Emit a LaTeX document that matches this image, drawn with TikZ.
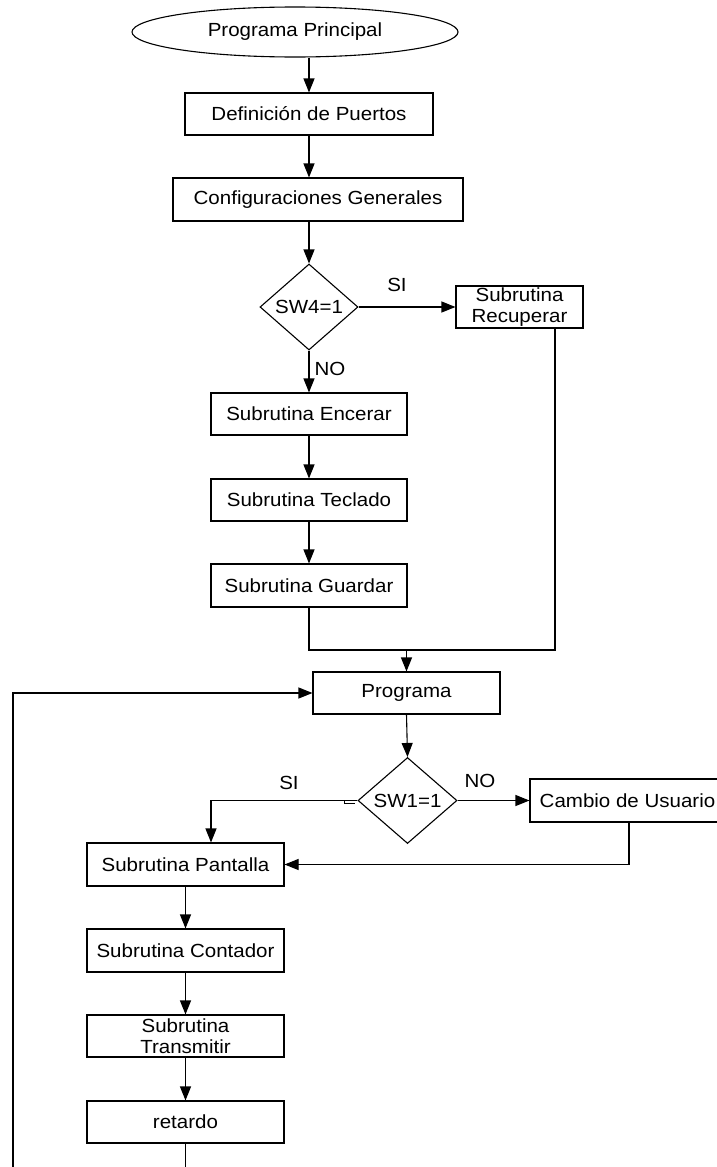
\documentclass[tikz,border=0pt]{standalone}
\usepackage{fontspec}
\setmainfont{Liberation Sans}[FakeStretch=1.08]
\usetikzlibrary{arrows.meta,shapes.geometric}

\begin{document}
\begin{tikzpicture}[x=1pt,y=-1pt,
  line width=1.1pt,
  every node/.style={font=\fontsize{19}{21.5}\selectfont},
  box/.style={draw, rectangle, inner sep=0pt, align=center, minimum height=42pt},
  dia/.style={draw, diamond, inner sep=0pt, minimum width=98pt, minimum height=86pt},
  arr/.style={-{Triangle[length=14pt,width=11pt]}},
  lbl/.style={inner sep=0pt}
]
\useasboundingbox (0,0) rectangle (717,1167);
\clip (0,0) rectangle (717,1167);

% start and set-up
\node[ellipse, draw, minimum width=326pt, minimum height=50pt, inner sep=0pt] (pp) at (295,32) {Programa Principal};
\node[box, minimum width=248pt] (def) at (309,114) {Definición de Puertos};
\node[box, minimum width=290pt, minimum height=43pt] (conf) at (318,199.5) {Configuraciones Generales};

% first decision
\node[dia, label={[name=d1t]center:{SW4=1}}] (d1) at (309,307) {};
\node[box, minimum width=127pt] (rec) at (519.5,307) {Subrutina\\Recuperar};
\node[box, minimum width=196pt] (enc) at (309,414) {Subrutina Encerar};
\node[box, minimum width=196pt] (tec) at (309,500) {Subrutina Teclado};
\node[box, minimum width=196pt, minimum height=43pt] (gua) at (309,585.5) {Subrutina Guardar};

% main loop
\node[box, minimum width=187pt] (prog) at (406.5,693) {Programa};
\node[dia, minimum width=99pt, label={[name=d2t]center:{SW1=1}}] (d2) at (407.5,800.5) {};
\node[box, minimum width=195pt, minimum height=43pt] (cam) at (627.5,800.5) {Cambio de Usuario};
\node[box, minimum width=197pt, minimum height=43pt] (pan) at (185.5,864.5) {Subrutina Pantalla};
\node[box, minimum width=197pt, minimum height=43pt] (con) at (185.5,950.5) {Subrutina Contador};
\node[box, minimum width=197pt] (tra) at (185.5,1036) {Subrutina\\Transmitir};
\node[box, minimum width=197pt] (ret) at (185.5,1122) {retardo};

% branch labels
\node[lbl] (si1) at (397,285) {SI};
\node[lbl] (no1) at (330,369) {NO};
\node[lbl] (si2) at (289,783) {SI};
\node[lbl] (no2) at (480,781) {NO};

% routing points
\coordinate (j1) at (555,650);
\coordinate (c1) at (211,800.5);
\coordinate (c2) at (629,865);
\coordinate (bl) at (13,1167);

% connectors
\draw[arr] (pp.south -| def.north) -- (def.north);
\draw[arr] (def.south) -- (def.south |- conf.north);
\draw[arr] (def.south |- conf.south) -- (d1.north);
\draw[arr] (d1.east) -- (rec.west);
\draw[arr] (d1.south) -- (enc.north);
\draw[arr] (enc.south) -- (tec.north);
\draw[arr] (tec.south) -- (gua.north);
\draw (gua.south) |- (j1) -- (j1 |- rec.south);
\draw[arr] (prog.north |- j1) -- (prog.north);
\draw[arr] (prog.south) -- (d2.north);
\draw[arr] (d2.west) -- (c1) -- (c1 |- pan.north);
\draw[line width=0.8pt] ([xshift=-13pt]d2.west) -- ++(0,2.5) -- ++(11,0);
\draw[arr] (d2.east) -- (cam.west);
\draw[arr] (c2 |- cam.south) |- (pan.east);
\draw[arr] (pan.south) -- (con.north);
\draw[arr] (con.south) -- (tra.north);
\draw[arr] (tra.south) -- (ret.north);
\draw (ret.south) -- (ret.south |- bl);
\draw[arr] (bl) |- (prog.west);
\end{tikzpicture}
\end{document}
